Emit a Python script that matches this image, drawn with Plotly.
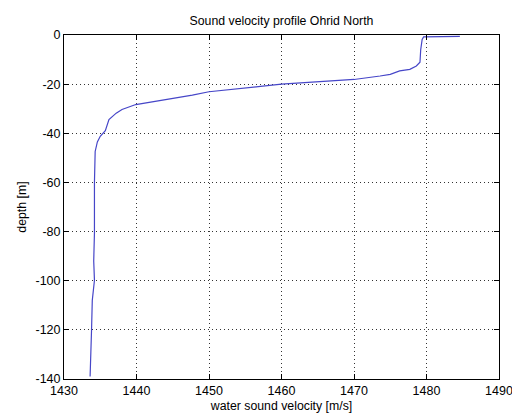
import plotly.graph_objects as go

# Sound velocity profile (velocity in m/s, depth in m, negative downward)
velocity = [1484.6, 1482.0, 1479.6, 1479.4, 1479.2, 1479.1, 1478.6, 1477.7,
            1476.3, 1475.0, 1473.6, 1470.0, 1465.0, 1460.0, 1457.1, 1453.5,
            1452.0, 1450.0, 1447.7, 1444.0, 1439.9, 1438.0, 1437.2, 1436.2,
            1435.7, 1435.0, 1434.6, 1434.3, 1434.2, 1434.2, 1434.1,
            1434.2, 1434.0, 1433.9, 1433.8, 1433.7, 1433.6]
depth = [-0.6, -0.6, -0.8, -1.8, -6.0, -11.1, -12.6, -14.0,
         -14.6, -16.0, -16.7, -18.1, -19.0, -20.0, -20.9, -22.0,
         -22.5, -23.1, -24.5, -26.2, -28.3, -30.3, -31.8, -34.4,
         -38.9, -41.2, -43.5, -47.4, -60.0, -80.6, -92.0,
         -99.8, -104.0, -108.0, -120.0, -130.0, -139.0]

x_ticks = [1430, 1440, 1450, 1460, 1470, 1480, 1490]
y_ticks = [0, -20, -40, -60, -80, -100, -120, -140]

FONT = "Liberation Sans, Arial, sans-serif"

fig = go.Figure()
fig.add_trace(go.Scatter(
    x=velocity, y=depth, mode="lines",
    line=dict(color="rgb(70,70,200)", width=1.2),
    hoverinfo="skip", showlegend=False,
))

axis_common = dict(
    showline=True, linecolor="black", linewidth=1, mirror="ticks",
    ticks="inside", ticklen=5, tickcolor="black", tickwidth=1,
    showgrid=True, gridcolor="rgba(0,0,0,0.8)", griddash="1px,3px", gridwidth=1,
    zeroline=False, automargin=False, ticklabeloverflow="allow",
    tickfont=dict(family=FONT, size=12.5, color="black"),
)

fig.update_layout(
    width=512, height=414,
    margin=dict(l=64, r=13, t=35, b=35),
    paper_bgcolor="white", plot_bgcolor="white",
    title=dict(text="Sound velocity profile Ohrid North", x=0.5, xanchor="center",
               xref="paper", y=1 - 21 / 414, yanchor="middle",
               font=dict(family=FONT, size=12.3, color="black")),
    xaxis=dict(range=[1430, 1490], tickvals=x_ticks,
               ticktext=[str(v) for v in x_ticks],
               title=dict(text="water sound velocity [m/s]", standoff=4,
                          font=dict(family=FONT, size=12.3, color="black")),
               **axis_common),
    yaxis=dict(range=[-140, 0], tickvals=y_ticks,
               ticktext=[str(v) for v in y_ticks],
               title=dict(text="depth [m]", standoff=6,
                          font=dict(family=FONT, size=12.3, color="black")),
               **axis_common),
)

fig.write_html("out.html")
